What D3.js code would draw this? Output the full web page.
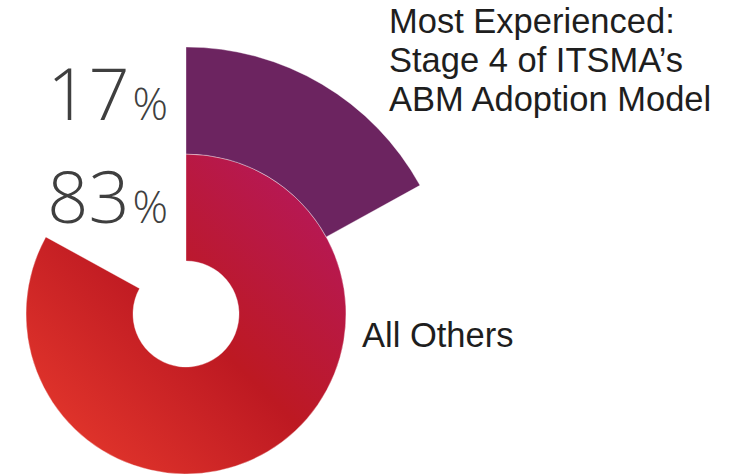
<!DOCTYPE html>
<html><head><meta charset="utf-8">
<script src="https://cdn.jsdelivr.net/npm/d3@7"></script>
<style>html,body{margin:0;padding:0;background:#fff;}svg{display:block;}</style>
</head><body>
<svg id="chart" width="756" height="474"></svg>
<script>
const categories = ["All Others", "Most Experienced"];
const values = [83, 17];
const pctLabels = ["83", "17"];
const labelLines = [["All Others"], ["Most Experienced:", "Stage 4 of ITSMA\u2019s", "ABM Adoption Model"]];

const svg = d3.select("#chart");
const W = 756, H = 474;
const cx = 186, cy = 314;
const angle = d3.scaleLinear().domain([0, 100]).range([0, 2 * Math.PI]);
// radii per category: [inner, outer]
const radii = [[53, 160], [160, 267]];

const defs = svg.append("defs");
const grad = defs.append("linearGradient").attr("id", "redGrad")
  .attr("x1", 0).attr("y1", 1).attr("x2", 1).attr("y2", 0);
grad.append("stop").attr("offset", "0%").attr("stop-color", "#ec3d2e");
grad.append("stop").attr("offset", "50%").attr("stop-color", "#bd1922");
grad.append("stop").attr("offset", "100%").attr("stop-color", "#b41866");

const fills = ["url(#redGrad)", "#6c2460"];
const arc = d3.arc();
const g = svg.append("g").attr("transform", `translate(${cx},${cy})`);

g.selectAll("path").data(values).join("path")
  .attr("d", (v, i) => arc({innerRadius: radii[i][0], outerRadius: radii[i][1], startAngle: 0, endAngle: angle(v)}))
  .attr("fill", (v, i) => fills[i])
  .attr("stroke", "#ffffff").attr("stroke-width", 0.6).attr("stroke-opacity", 0.6);

// percentage labels (right aligned)
const pctY = [223, 120];
const pct = svg.selectAll("text.pct").data(values).join("text")
  .attr("class", "pct")
  .attr("x", 168).attr("y", (v, i) => pctY[i])
  .attr("text-anchor", "end")
  .attr("fill", "#3f3f3f")
  .style("font-family", "'Open Sans', sans-serif").style("font-weight", 300);
pct.append("tspan").attr("font-size", 72).text((v, i) => pctLabels[i]);
pct.append("tspan").attr("font-size", 44).attr("dx", 3).text("%");

// category labels
const labelPos = [{x: 362, y: 347, size: 34.5, lh: 0}, {x: 389, y: 33, size: 34.5, lh: 38.8}];
labelLines.forEach((lines, i) => {
  const t = svg.append("text")
    .attr("x", labelPos[i].x).attr("y", labelPos[i].y)
    .attr("fill", "#1e1e1e")
    .style("font-family", "'Liberation Sans', Arial, sans-serif")
    .attr("font-size", labelPos[i].size);
  lines.forEach((l, j) => t.append("tspan").attr("x", labelPos[i].x).attr("dy", j === 0 ? 0 : labelPos[i].lh).text(l));
});
</script>
</body></html>
